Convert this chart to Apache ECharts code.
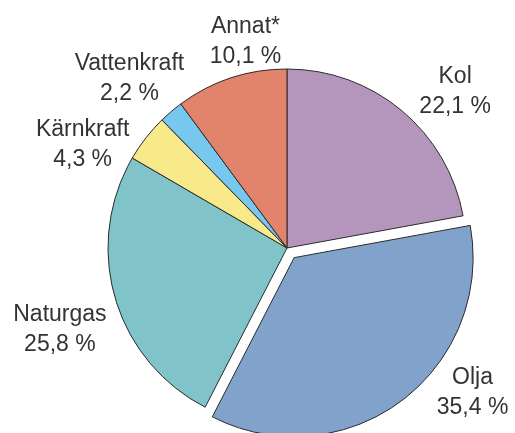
<!DOCTYPE html>
<html>
<head>
<meta charset="utf-8">
<script src="https://cdn.jsdelivr.net/npm/echarts@6/dist/echarts.min.js"></script>
<style>
  html, body { margin: 0; padding: 0; background: #fff; }
  #chart { width: 515px; height: 433px; }
</style>
</head>
<body>
<div id="chart"></div>
<script>
// energikällor, andel i procent (medurs från toppen)
const names = ['Kol', 'Olja', 'Naturgas', 'Kärnkraft', 'Vattenkraft', 'Annat*'];
const values = [22.1, 35.4, 25.8, 4.3, 2.2, 10.1];
const colors = ['#b496bc', '#80a2cb', '#80c4ca', '#f8e98b', '#78c7ef', '#e2836b'];
// små justeringar av etiketterna
const labelDx = [42, 61, -38, -49, -30, 20];
const labelDy = [-5, -23, 26, 18, -19, -19];

let myChart = echarts.init(document.getElementById('chart'));

let option = {
    animation: false,
    series: [
        {
            type: 'pie',
            center: [287, 248],
            radius: 179,
            startAngle: 90,
            clockwise: true,
            avoidLabelOverlap: false,
            selectedMode: 'single',
            selectedOffset: 12,
            data: names.map((n, i) => ({
                name: n,
                value: values[i],
                selected: n === 'Olja',
                itemStyle: { color: colors[i] }
            })),
            itemStyle: {
                borderColor: '#2a2a2a',
                borderWidth: 1
            },
            label: {
                position: 'outside',
                formatter: p => p.name + '\n' + String(p.value).replace('.', ',') + ' %',
                fontFamily: 'Liberation Sans',
                fontSize: 23,
                lineHeight: 30,
                color: '#333333',
                distanceToLabelLine: 0
            },
            labelLine: { show: false, length: 18, length2: 0 },
            labelLayout: p => ({
                align: 'center',
                dx: labelDx[p.dataIndex],
                dy: labelDy[p.dataIndex]
            }),
            emphasis: { disabled: true }
        }
    ]
};
option && myChart.setOption(option);
</script>
</body>
</html>
